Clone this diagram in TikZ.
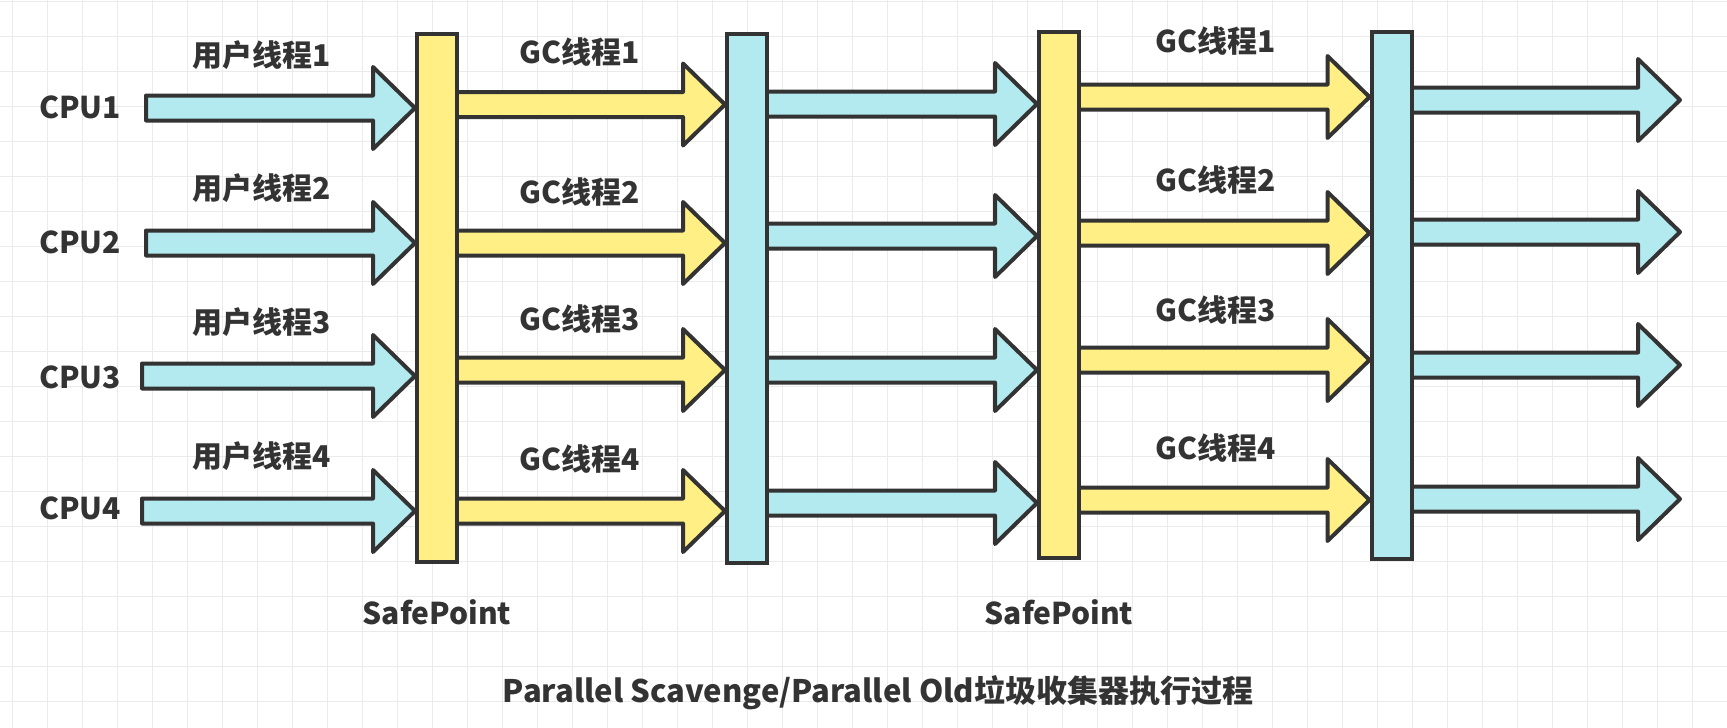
\documentclass[tikz,border=0pt]{standalone}
\usepackage{fontspec}
\setmainfont{Noto Sans CJK SC}
\usepackage{xcolor}
\usepackage{tikz}
\usetikzlibrary{calc,positioning}

\definecolor{inkgray}{HTML}{333333}
\definecolor{cpublue}{HTML}{B3EAF0}
\definecolor{gcyellow}{HTML}{FFEF85}
\definecolor{gridgray}{HTML}{EBEBEB}

\pgfdeclarelayer{grid}
\pgfdeclarelayer{flow}
\pgfsetlayers{grid,flow,main}

\tikzset{
    bar/.style={draw=inkgray, line width=4pt, minimum width=40pt, inner sep=0pt},
    flowarrow/.style={
        draw=inkgray, line width=4pt, line join=round,
        to path={let \p1=(\tikztostart), \p2=(\tikztotarget) in
            (\x1,\y1+12.5pt) -- (\x2-42pt,\y1+12.5pt) -- (\x2-42pt,\y1+41pt)
            -- (\x2,\y1) -- (\x2-42pt,\y1-41pt) -- (\x2-42pt,\y1-12.5pt)
            -- (\x1,\y1-12.5pt) -- cycle}
    },
    lbl/.style={text=inkgray, inner sep=0pt, font=\fontsize{30}{36}\selectfont\bfseries},
    gridline/.style={draw=gridgray, line width=1pt}
}

\begin{document}
\begin{tikzpicture}[x=1pt,y=-1pt]
                \useasboundingbox (0,0) rectangle (1727,728);

                \begin{pgfonlayer}{grid}
                    \fill[white] (0,0) rectangle (1727,728);
                    \foreach \gx in {12,47,...,1727}
                        \draw[gridline] (\gx,0) -- (\gx,728);
                    \foreach \gy in {1,36,...,728}
                        \draw[gridline] (0,\gy) -- (1727,\gy);
                \end{pgfonlayer}

                \node[bar, fill=gcyellow, minimum height=528pt] (sp1) at (437,298) {};
                \node[bar, fill=cpublue, minimum height=529pt] (gc1) at (747,298.5) {};
                \node[bar, fill=gcyellow, minimum height=526pt] (sp2) at (1059,295) {};
                \node[bar, fill=cpublue, minimum height=527pt] (gc2) at (1391.5,295.5) {};

                \node[lbl] (cpu1) at (80,107) {CPU1};
                \node[lbl] (cpu2) at (80,242) {CPU2};
                \node[lbl] (cpu3) at (80,377) {CPU3};
                \node[lbl] (cpu4) at (80,508) {CPU4};

                \node[lbl] (ut1) at (262,55) {用户线程1};
                \node[lbl] (ut2) at (262,188) {用户线程2};
                \node[lbl] (ut3) at (262,322) {用户线程3};
                \node[lbl] (ut4) at (262,456) {用户线程4};

                \node[lbl] (gca1) at (580,52) {GC线程1};
                \node[lbl] (gca2) at (580,192) {GC线程2};
                \node[lbl] (gca3) at (580,319) {GC线程3};
                \node[lbl] (gca4) at (580,459) {GC线程4};

                \node[lbl] (gcb1) at (1216,41) {GC线程1};
                \node[lbl] (gcb2) at (1216,180) {GC线程2};
                \node[lbl] (gcb3) at (1216,310) {GC线程3};
                \node[lbl] (gcb4) at (1216,448) {GC线程4};

                \node[lbl] (sp1lbl) at (sp1 |- 0,612) {SafePoint};
                \node[lbl] (sp2lbl) at (sp2 |- 0,612) {SafePoint};

                \node[lbl, font=\fontsize{31}{36}\selectfont\bfseries] (title) at (878,693) {Parallel Scavenge/Parallel Old垃圾收集器执行过程};

                \coordinate (in1) at (146,108);
                \coordinate (in2) at (146,243);
                \coordinate (in3) at (142,376);
                \coordinate (in4) at (142,511);
                \coordinate (out1) at (1680,100);
                \coordinate (out2) at (1680,232);
                \coordinate (out3) at (1680,365);
                \coordinate (out4) at (1680,499);

                \begin{pgfonlayer}{flow}
                    \draw[flowarrow, fill=cpublue] (in1) to (sp1.west);
                    \draw[flowarrow, fill=cpublue] (in2) to (sp1.west);
                    \draw[flowarrow, fill=cpublue] (in3) to (sp1.west);
                    \draw[flowarrow, fill=cpublue] (in4) to (sp1.west);

                    \draw[flowarrow, fill=gcyellow] (sp1 |- 0,104.5) to (gc1.west);
                    \draw[flowarrow, fill=gcyellow] (sp1 |- 0,243) to (gc1.west);
                    \draw[flowarrow, fill=gcyellow] (sp1 |- 0,370) to (gc1.west);
                    \draw[flowarrow, fill=gcyellow] (sp1 |- 0,511) to (gc1.west);

                    \draw[flowarrow, fill=cpublue] (gc1 |- 0,104) to (sp2.west);
                    \draw[flowarrow, fill=cpublue] (gc1 |- 0,236) to (sp2.west);
                    \draw[flowarrow, fill=cpublue] (gc1 |- 0,370) to (sp2.west);
                    \draw[flowarrow, fill=cpublue] (gc1 |- 0,503) to (sp2.west);

                    \draw[flowarrow, fill=gcyellow] (sp2 |- 0,97) to (gc2.west);
                    \draw[flowarrow, fill=gcyellow] (sp2 |- 0,233) to (gc2.west);
                    \draw[flowarrow, fill=gcyellow] (sp2 |- 0,360) to (gc2.west);
                    \draw[flowarrow, fill=gcyellow] (sp2 |- 0,500) to (gc2.west);

                    \draw[flowarrow, fill=cpublue] (gc2 |- out1) to (out1);
                    \draw[flowarrow, fill=cpublue] (gc2 |- out2) to (out2);
                    \draw[flowarrow, fill=cpublue] (gc2 |- out3) to (out3);
                    \draw[flowarrow, fill=cpublue] (gc2 |- out4) to (out4);
                \end{pgfonlayer}
\end{tikzpicture}
\end{document}
